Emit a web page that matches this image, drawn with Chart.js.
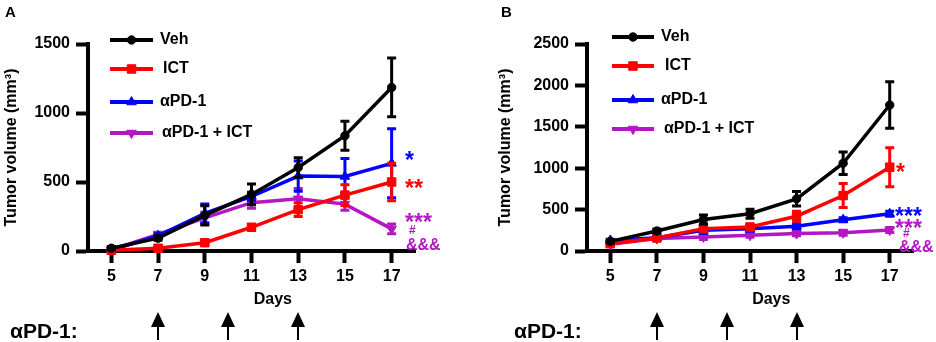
<!DOCTYPE html>
<html><head><meta charset="utf-8">
<script src="https://cdn.jsdelivr.net/npm/chart.js@4/dist/chart.umd.min.js"></script>
<style>
html,body{margin:0;padding:0;background:#fff;}
#wrap{position:relative;width:936px;height:342px;overflow:hidden;background:#fff;}
.panel{position:absolute;top:0;width:468px;height:342px;}
canvas{display:block;}
</style></head><body>
<div id="wrap">
<div class="panel" style="left:0"><canvas id="cA" width="468" height="342"></canvas></div>
<div class="panel" style="left:468px"><canvas id="cB" width="468" height="342"></canvas></div>
</div>
<script>
// ---- data ----
const days = [5, 7, 9, 11, 13, 15, 17];
const seriesNames = ['Veh', 'ICT', 'αPD-1', 'αPD-1 + ICT'];
const doseDays = [7, 10, 13];
const yTitle = 'Tumor volume (mm³)';
const xTitle = 'Days';
const doseLabel = 'αPD-1:';

// Panel A
const vehA = [20, 93, 258, 410, 605, 835, 1185];
const vehAErr = [12, 15, 70, 75, 70, 105, 213];
const ictA = [5, 20, 60, 172, 300, 405, 500];
const ictAErr = [8, 10, 15, 20, 50, 75, 135];
const pd1A = [7, 110, 272, 395, 543, 540, 635];
const pd1AErr = [10, 15, 68, 30, 110, 130, 250];
const comboA = [10, 120, 240, 350, 378, 340, 160];
const comboAErr = [10, 15, 40, 40, 75, 45, 35];

// Panel B
const vehB = [116, 241, 381, 450, 630, 1060, 1763];
const vehBErr = [20, 25, 55, 55, 88, 135, 280];
const ictB = [88, 157, 270, 290, 420, 670, 1012];
const ictBErr = [15, 15, 30, 20, 60, 145, 235];
const pd1B = [128, 160, 250, 270, 300, 378, 450];
const pd1BErr = [15, 15, 40, 30, 30, 25, 30];
const comboB = [80, 150, 170, 190, 210, 220, 253];
const comboBErr = [15, 15, 30, 25, 25, 30, 30];

// ---- styles ----
const COLORS = ['#000000', '#ff0000', '#0000ff', '#b416c4'];
const STYLES = [
  {pointStyle: 'circle', radius: 4.2, rotation: 0},
  {pointStyle: 'rect', radius: 6, rotation: 0},
  {pointStyle: 'triangle', radius: 5.5, rotation: 0},
  {pointStyle: 'triangle', radius: 5.5, rotation: 180}
];
const FONT = '"Liberation Sans", Arial, Helvetica, sans-serif';
const f = (s) => `bold ${s}px ${FONT}`;

function makeDatasets(vals, errs) {
  return vals.map((v, k) => ({
    label: seriesNames[k],
    data: days.map((d, i) => ({x: d, y: v[i]})),
    errors: errs[k],
    borderColor: COLORS[k],
    backgroundColor: COLORS[k],
    borderWidth: 3.5,
    pointStyle: STYLES[k].pointStyle,
    pointRadius: STYLES[k].radius,
    pointRotation: STYLES[k].rotation,
    pointBorderWidth: 1,
    pointHoverRadius: STYLES[k].radius,
    tension: 0,
    clip: false
  }));
}

const errorBars = {
  id: 'errorBars',
  afterDatasetDraw(chart, args) {
    const ds = chart.data.datasets[args.index];
    const ys = chart.scales.y, ctx = chart.ctx;
    ctx.save();
    ctx.strokeStyle = ds.borderColor;
    ctx.lineWidth = 3;
    ctx.lineCap = 'butt';
    args.meta.data.forEach((pt, i) => {
      const v = ds.data[i].y, e = ds.errors[i];
      const yt = ys.getPixelForValue(v + e);
      const yb = ys.getPixelForValue(Math.max(0, v - e));
      const x = pt.x;
      ctx.beginPath();
      ctx.moveTo(x, yt); ctx.lineTo(x, yb);
      ctx.moveTo(x - 4.5, yt); ctx.lineTo(x + 4.5, yt);
      ctx.moveTo(x - 4.5, yb); ctx.lineTo(x + 4.5, yb);
      ctx.stroke();
    });
    ctx.restore();
  }
};

const overlay = {
  id: 'overlay',
  afterDraw(chart, args, o) {
    const ctx = chart.ctx, ca = chart.chartArea;
    const xs = chart.scales.x;
    ctx.save();
    ctx.fillStyle = '#000';
    // panel letter
    ctx.font = f(15); ctx.textAlign = 'left'; ctx.textBaseline = 'alphabetic';
    ctx.fillText(o.letter, o.letterX, 17);
    // y title
    ctx.save();
    ctx.translate(o.yTitleX, (ca.top + ca.bottom) / 2);
    ctx.rotate(-Math.PI / 2);
    ctx.font = f(16); ctx.textAlign = 'center'; ctx.textBaseline = 'middle';
    ctx.fillText(yTitle, 0, 0);
    ctx.restore();
    // x title
    ctx.font = f(16); ctx.textAlign = 'center'; ctx.textBaseline = 'alphabetic';
    ctx.fillText(xTitle, xs.getPixelForValue(12) - 2, 304);
    // legend
    o.legendY.forEach((ly, k) => {
      ctx.strokeStyle = COLORS[k]; ctx.fillStyle = COLORS[k];
      ctx.lineWidth = 4;
      ctx.beginPath(); ctx.moveTo(o.legX0, ly); ctx.lineTo(o.legX1, ly); ctx.stroke();
      ctx.lineWidth = 1;
      Chart.helpers.drawPoint(ctx, {pointStyle: STYLES[k].pointStyle, rotation: STYLES[k].rotation, radius: STYLES[k].radius, borderWidth: 1}, (o.legX0 + o.legX1) / 2, ly);
      ctx.fillStyle = '#000';
      ctx.font = f(16); ctx.textAlign = 'left'; ctx.textBaseline = 'middle';
      ctx.fillText(seriesNames[k], o.legTextX[k], ly);
    });
    // significance annotations
    o.notes.forEach(n => {
      ctx.fillStyle = n.color;
      ctx.font = f(n.size); ctx.textAlign = 'left'; ctx.textBaseline = 'alphabetic';
      ctx.fillText(n.text, n.x, n.y);
    });
    // dosing arrows
    ctx.fillStyle = '#000'; ctx.strokeStyle = '#000';
    doseDays.forEach(d => {
      const x = Math.round(xs.getPixelForValue(d));
      ctx.beginPath();
      ctx.moveTo(x, 312); ctx.lineTo(x - 7, 327); ctx.lineTo(x + 7, 327); ctx.closePath();
      ctx.fill();
      ctx.lineWidth = 2;
      ctx.beginPath(); ctx.moveTo(x, 325); ctx.lineTo(x, 340); ctx.stroke();
    });
    ctx.font = f(21); ctx.textAlign = 'left'; ctx.textBaseline = 'alphabetic';
    ctx.fillText(doseLabel, o.doseX, 338);
    ctx.restore();
  }
};

function axisCommon() {
  return {
    grid: {display: true, drawOnChartArea: false, drawTicks: true, tickLength: 12, tickWidth: 4, tickColor: '#000', color: '#000'},
    border: {display: true, color: '#000', width: 4}
  };
}

function makePanel(id, vals, errs, yMax, yW, padR, o) {
  new Chart(document.getElementById(id), {
    type: 'line',
    data: {datasets: makeDatasets(vals, errs)},
    options: {
      responsive: false, animation: false, devicePixelRatio: 1,
      events: [],
      layout: {padding: {left: 0, right: padR, top: 44, bottom: 0}},
      plugins: {legend: {display: false}, tooltip: {enabled: false}, overlay: o},
      scales: {
        x: Object.assign(axisCommon(), {
          type: 'linear', min: 4, max: 18,
          afterBuildTicks: s => { s.ticks = days.map(v => ({value: v})); },
          afterFit: s => { s.height = 91; },
          ticks: {color: '#000', font: {family: FONT, size: 16, weight: 'bold'}, padding: 4, autoSkip: false, maxRotation: 0, callback: v => String(v)}
        }),
        y: Object.assign(axisCommon(), {
          min: 0, max: yMax,
          afterFit: s => { s.width = yW; },
          ticks: {color: '#000', stepSize: 500, font: {family: FONT, size: 16, weight: 'bold'}, padding: 6, callback: v => String(v)}
        })
      }
    },
    plugins: [errorBars, overlay]
  });
}

makePanel('cA', [vehA, ictA, pd1A, comboA], [vehAErr, ictAErr, pd1AErr, comboAErr], 1500, 88, 53, {
  letter: 'A', letterX: 5, yTitleX: 12, doseX: 10,
  legX0: 110, legX1: 153, legTextX: [160, 163, 160, 162], legendY: [40, 69, 102, 133],
  notes: [
    {text: '*', color: COLORS[2], size: 23, x: 405, y: 168},
    {text: '**', color: COLORS[1], size: 23, x: 405, y: 196},
    {text: '***', color: COLORS[3], size: 23, x: 405, y: 230},
    {text: '#', color: COLORS[3], size: 12, x: 409, y: 234},
    {text: '&&&', color: COLORS[3], size: 16, x: 406, y: 250}
  ]
});

makePanel('cB', [vehB, ictB, pd1B, comboB], [vehBErr, ictBErr, pd1BErr, comboBErr], 2500, 119, 23, {
  letter: 'B', letterX: 33, yTitleX: 38, doseX: 46,
  legX0: 144, legX1: 186, legTextX: [193, 197, 193, 196], legendY: [37, 66, 100, 129],
  notes: [
    {text: '*', color: COLORS[1], size: 23, x: 428, y: 180},
    {text: '***', color: COLORS[2], size: 23, x: 427, y: 224},
    {text: '***', color: COLORS[3], size: 23, x: 427, y: 236},
    {text: '#', color: COLORS[3], size: 12, x: 435, y: 237},
    {text: '&&&', color: COLORS[3], size: 16, x: 431, y: 252}
  ]
});
</script>
</body></html>
